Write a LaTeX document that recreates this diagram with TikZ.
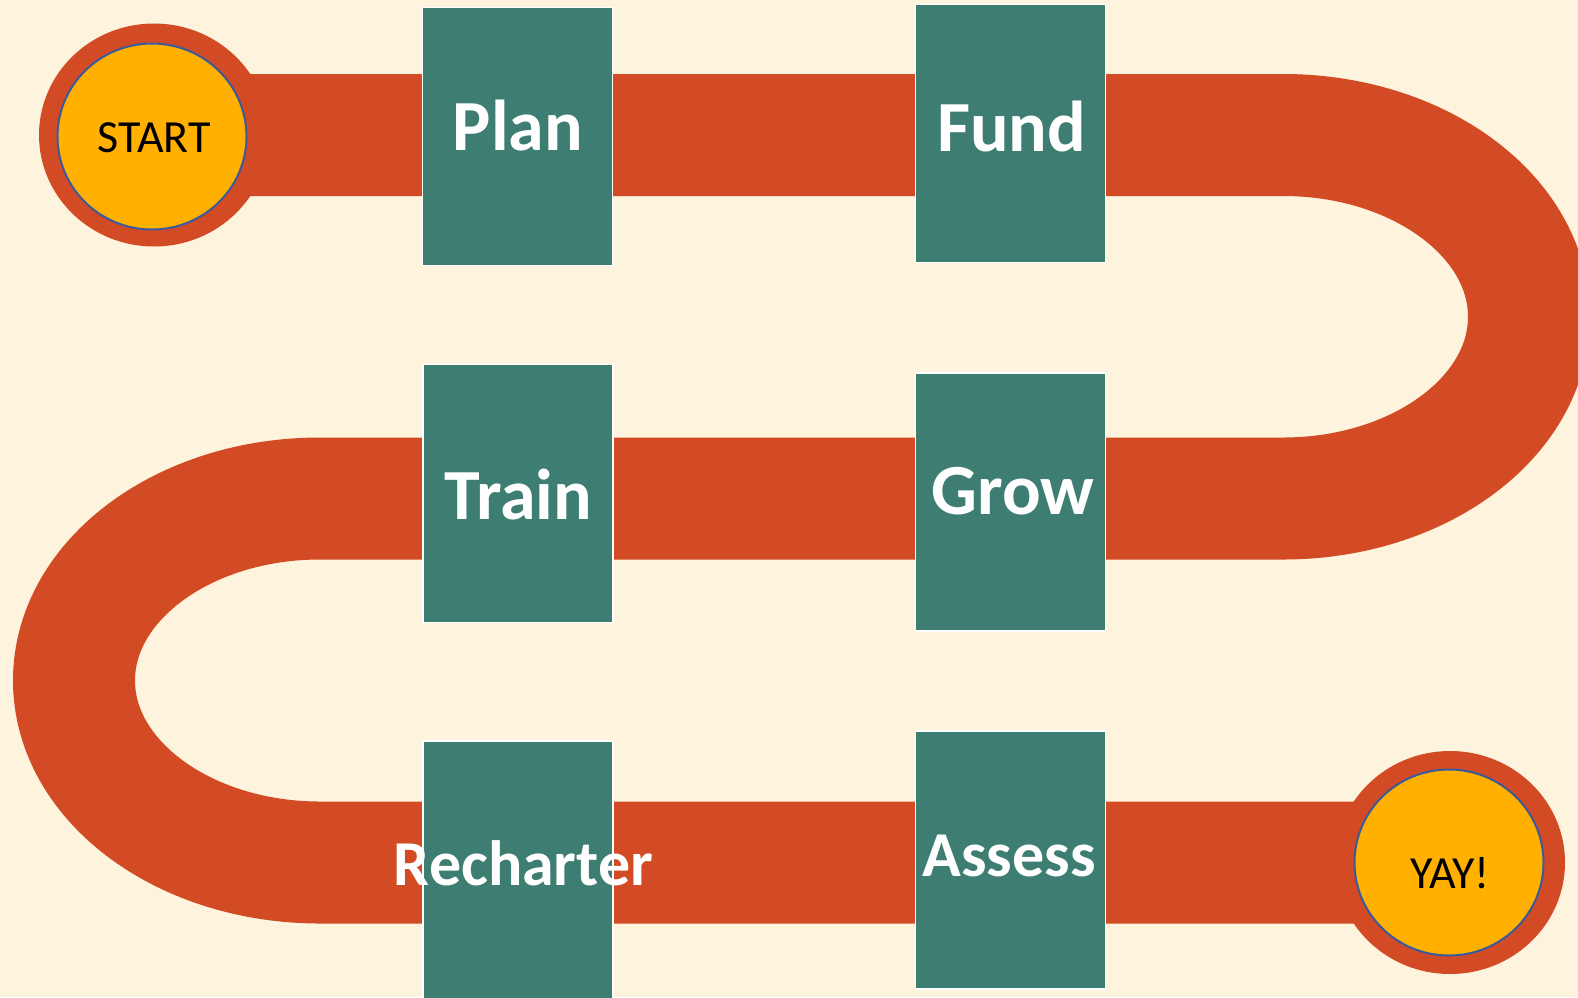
\documentclass[tikz,border=0pt]{standalone}
\usepackage{fontspec}
\setmainfont{Carlito}
\usetikzlibrary{shapes.geometric}
\definecolor{paper}{HTML}{FEF3DD}
\definecolor{roadred}{HTML}{D34B25}
\definecolor{boxteal}{HTML}{3E7D72}
\definecolor{gold}{HTML}{FFB000}
\definecolor{ringblue}{HTML}{3A5A9C}
\begin{document}
\begin{tikzpicture}[x=1pt,y=1pt]
\tikzstyle{stepbox} = [fill=boxteal,draw=white,line width=1.5,minimum width=190,minimum height=258,inner sep=0];
\tikzstyle{steptext} = [font=\fontsize{72}{72}\selectfont\bfseries,color=white,anchor=base,inner sep=0];
\tikzstyle{smalltext} = [font=\fontsize{64}{64}\selectfont\bfseries,color=white,anchor=base,inner sep=0];
\tikzstyle{ring} = [ellipse,fill=roadred,minimum width=230,minimum height=223,inner sep=0];
\tikzstyle{goal} = [ellipse,fill=gold,draw=ringblue,line width=2,minimum width=189,minimum height=186,inner sep=0];
\tikzstyle{goaltext} = [font=\fontsize{46}{46}\selectfont,anchor=base,inner sep=0];
\tikzstyle{road} = [draw=roadred,line width=122];

\useasboundingbox (0,0) rectangle (1578,-997);
\fill [paper] (0,0) rectangle (1578,-997);
\clip (0,0) rectangle (1578,-997);

% turning points of the road
\coordinate (r1) at (1283,-135);
\coordinate (l1) at (320,-498.5);

\node [ring] (startring) at (154,-135) {};
\node [ring] (yayring) at (1450,-862.5) {};
\draw [road] (startring.center) -- (r1) arc [start angle=90,end angle=-90,x radius=246,y radius=181.75] -- (l1) arc [start angle=90,end angle=270,x radius=246,y radius=182] -- (yayring.center);

\node [stepbox] (plan) at (517.7,-136.5) {};
\node [stepbox] (fund) at (1010.7,-133.6) {};
\node [stepbox] (train) at (518,-493.3) {};
\node [stepbox] (grow) at (1010.7,-502) {};
\node [stepbox] (recharter) at (518,-870) {};
\node [stepbox] (assess) at (1010.5,-860.2) {};

\node [steptext] (plantext) at (518,-150.7) {Plan};
\node [steptext] (fundtext) at (1011.5,-151) {Fund};
\node [steptext] (traintext) at (518,-519) {Train};
\node [steptext] (growtext) at (1013,-514) {Grow};
\node [smalltext] (rechartertext) at (523.5,-885.7) {Recharter};
\node [smalltext] (assesstext) at (1009,-876.7) {Assess};

\node [goal] (start) at (152,-136.5) {};
\node [goaltext] (starttext) at (154,-152.7) {START};
\node [goal] (yay) at (1449,-862.5) {};
\node [goaltext] (yaytext) at (1450,-888.3) {YAY!};
\end{tikzpicture}
\end{document}
